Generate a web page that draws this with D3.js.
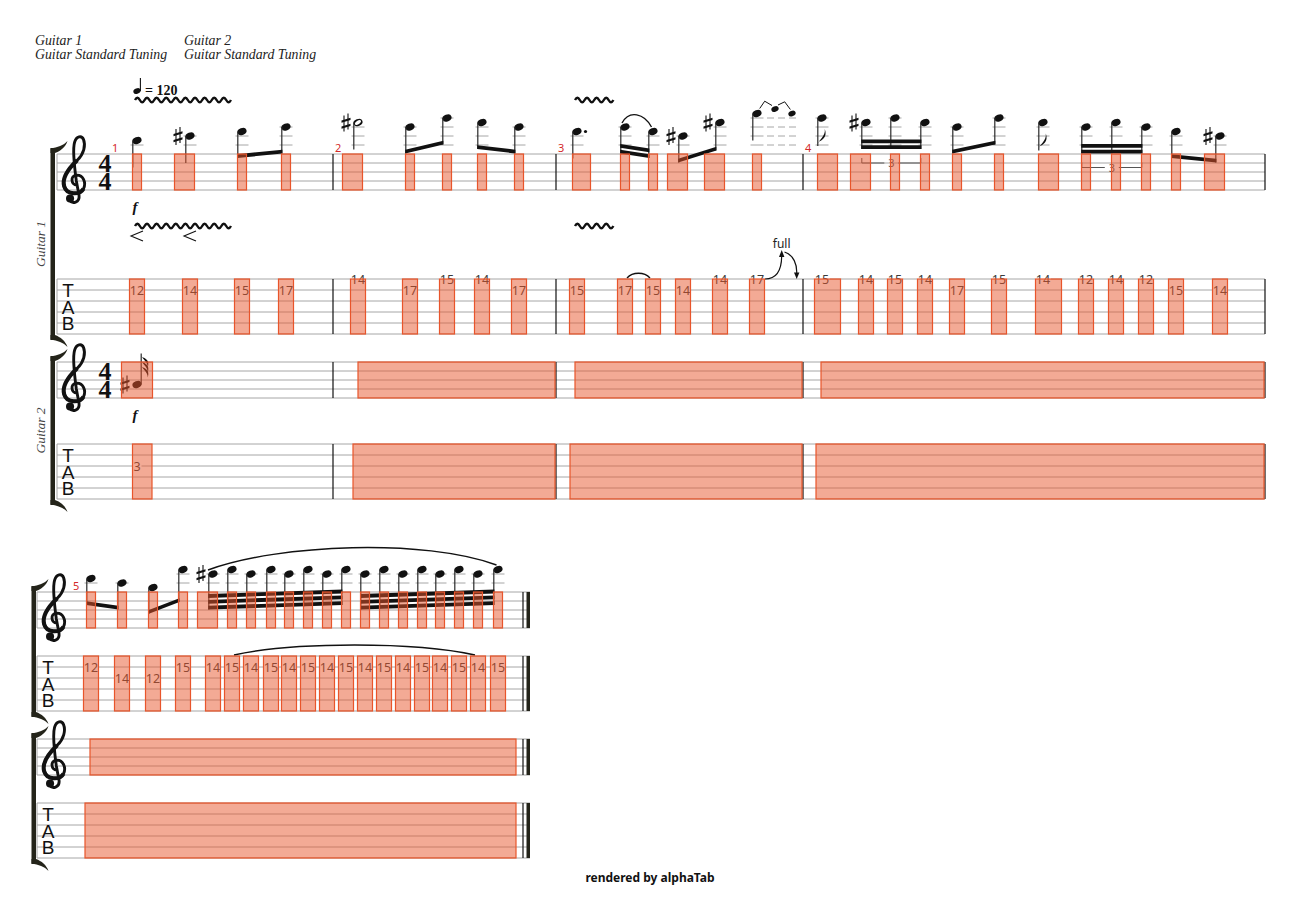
<!DOCTYPE html>
<html>
<head>
<meta charset="utf-8">
<script src="https://cdn.jsdelivr.net/npm/d3@7/dist/d3.min.js"></script>
<style>
  body { margin: 0; background: #fff; }
</style>
</head>
<body>
<div id="score"></div>
<script>
const trackNames = ["Guitar 1", "Guitar 2"];
const tuningName = "Guitar Standard Tuning";
const tempoBpm = 120;
const timeSig = [4, 4];

// measures: which system, where the bar ends (units from the system's staff start)
const measureSystem = [0, 0, 0, 0, 1];
const measureEnd = [276, 499, 746, 1208, 486];
const measureLabelPos = [55, 278, 501, 748, 36];

// Guitar 1 beats
const g1Measure = [1, 1, 1, 1, 2, 2, 2, 2, 2, 3, 3, 3, 3, 3, 3,
  4, 4, 4, 4, 4, 4, 4, 4, 4, 4, 4, 4,
  5, 5, 5, 5, 5, 5, 5, 5, 5, 5, 5, 5, 5, 5, 5, 5, 5, 5, 5, 5, 5, 5, 5, 5];
const g1Pos = [80, 133, 185, 229, 301, 353, 390, 425, 462, 520, 568, 596, 626, 663, 700,
  765, 809, 838, 868, 900, 942, 986, 1029, 1059, 1089, 1119, 1163,
  54, 85, 116, 146, 176, 195, 214, 234, 252, 271, 290, 309, 328, 347, 366, 385, 403, 422, 441, 461];
const g1Pitch = ["B5", "C#6", "D6", "E6", "F#6", "E6", "G6", "F#6", "E6", "D6", "E6", "D6", "C#6", "F#6", "A6",
  "G6", "F#6", "G6", "F#6", "E6", "G6", "F#6", "E6", "F#6", "E6", "D6", "C#6",
  "B5", "A5", "G5", "D6", "C#6", "D6", "C#6", "D6", "C#6", "D6", "C#6", "D6", "C#6", "D6", "C#6", "D6", "C#6", "D6", "C#6", "D6"];
const g1Dur = ["4", "4", "8", "8", "2", "8", "8", "8", "8", "4.", "16", "16", "8", "8", "4",
  "8", "16", "16", "16", "8", "8", "8", "16", "16", "16", "8", "8",
  "8", "8", "8", "8", "32", "32", "32", "32", "32", "32", "32", "32", "32", "32", "32", "32", "32", "32", "32", "32"];
const g1String = [2, 2, 2, 2, 1, 2, 1, 1, 2, 2, 2, 2, 2, 1, 1,
  1, 1, 1, 1, 2, 1, 1, 1, 1, 1, 2, 2,
  2, 3, 3, 2, 2, 2, 2, 2, 2, 2, 2, 2, 2, 2, 2, 2, 2, 2, 2, 2];
const g1Fret = [12, 14, 15, 17, 14, 17, 15, 14, 17, 15, 17, 15, 14, 14, 17,
  15, 14, 15, 14, 17, 15, 14, 12, 14, 12, 15, 14,
  12, 14, 12, 15, 14, 15, 14, 15, 14, 15, 14, 15, 14, 15, 14, 15, 14, 15, 14, 15];

const g1Beams = [[2, 3], [5, 6], [7, 8], [10, 11], [12, 13], [16, 18], [19, 20], [22, 24], [25, 26],
  [27, 28], [29, 30], [31, 38], [39, 46]];
const g1Triplets = [[16, 18], [22, 24]];
const g1Slurs = [[10, 11], [31, 46]];
const g1TabSlurs = [[10, 11], [32, 45]];
const g1Vibrato = [[0, 1], [9, 9]];
const g1Crescendo = [0, 1];
const g1Forte = [0];
const g1Bend = [14];
const bendPitches = ["B6", "A6"];
const bendLabel = "full";

// Guitar 2 beats
const g2Measure = [1];
const g2Pos = [80];
const g2Pitch = ["A#4"];
const g2Dur = ["32"];
const g2String = [3];
const g2Fret = [3];
const g2RestMeasure = [2, 3, 4, 5];
const g2RestStart = [301, 518, 764, 53];
const g2RestEnd = [498, 745, 1207, 479];

// ---- drawing ----
const LINE = "#a6a6a6", INK = "#111", STEM = "#2a2a2a";
const SERIF = "'Liberation Serif', 'DejaVu Serif', serif";
const SANS = "'Noto Sans', 'DejaVu Sans', sans-serif";
const HI = "#e8552b";

const svg = d3.select("#score").append("svg")
  .attr("width", 1300).attr("height", 919)
  .style("display", "block");

const systems = [
  { x0: 57, x1: 1265, span: 1208, bx: 50.5, staff: [154, 362], tab: [279, 444], first: true },
  { x0: 37, x1: 530, span: 493, bx: 31.5, staff: [592, 739], tab: [656, 803], first: false }
];
systems.forEach(s => { s.x = d3.scaleLinear().domain([0, s.span]).range([s.x0, s.x1]); });

const STEPS = "CDEFGAB";
function parsePitch(p) {
  const m = p.match(/^([A-G])(#?)(\d)$/);
  return { step: STEPS.indexOf(m[1]) + 7 * +m[3], sharp: m[2] === "#", key: m[1] + m[3] };
}
// diatonic step -> y, top line F5 (38) to bottom line E4 (30)
const pitchY = top => d3.scaleLinear().domain([38, 30]).range([top, top + 36]);
const stringY = top => d3.scaleLinear().domain([1, 6]).range([top, top + 55]);

const gLines = svg.append("g");
const gInk = svg.append("g");
const gTab = svg.append("g");
const gHi = svg.append("g");
const gTop = svg.append("g");

// header
[[35, 0], [184, 1]].forEach(([x, i]) => {
  const t = gTop.append("text").attr("font-family", SERIF).attr("font-style", "italic")
    .attr("font-size", 13.8).attr("fill", "#222");
  t.append("tspan").attr("x", x).attr("y", 45).text(trackNames[i]);
  t.append("tspan").attr("x", x).attr("y", 59).text(tuningName);
});

const clefPath = "M0.2,0.45 C-0.45,0.45 -0.55,-0.6 0.15,-0.65 C0.95,-0.7 1.25,0.25 0.95,0.85 " +
  "C0.55,1.55 -0.9,1.6 -1.2,0.6 C-1.5,-0.4 -0.7,-1.4 0.25,-2.3 C1.0,-3.0 1.2,-4.0 0.95,-4.6 " +
  "C0.75,-5.1 0.15,-5.0 -0.05,-4.3 C-0.25,-3.6 -0.15,-2.2 0.15,0.0 L0.45,1.6 C0.55,2.4 -0.3,2.6 -0.65,2.1";

function drawClef(x, y) {
  const g = gInk.append("g").attr("transform", `translate(${x},${y}) scale(9)`);
  g.append("path").attr("d", clefPath).attr("fill", "none").attr("stroke", INK)
    .attr("stroke-width", 0.32).attr("stroke-linecap", "round");
  // heavier lower bowl
  g.append("path").attr("d", "M0.95,0.85 C0.55,1.55 -0.9,1.6 -1.2,0.6 C-1.5,-0.4 -0.7,-1.4 0.25,-2.3")
    .attr("fill", "none").attr("stroke", INK).attr("stroke-width", 0.45);
  g.append("circle").attr("cx", -0.55).attr("cy", 1.95).attr("r", 0.45).attr("fill", INK);
}

function bracket(bx, yTop, yBot) {
  const c = "#24241a";
  gInk.append("rect").attr("x", bx).attr("y", yTop).attr("width", 4.5).attr("height", yBot - yTop).attr("fill", c);
  gInk.append("path").attr("fill", c).attr("d",
    `M${bx},${yTop + 0.5} C${bx + 7},${yTop - 0.5} ${bx + 13},${yTop - 2.5} ${bx + 17},${yTop - 7} ` +
    `C${bx + 15},${yTop - 1} ${bx + 10},${yTop + 3} ${bx + 4.5},${yTop + 5} L${bx},${yTop + 5} Z`);
  gInk.append("path").attr("fill", c).attr("d",
    `M${bx},${yBot - 0.5} C${bx + 7},${yBot + 0.5} ${bx + 13},${yBot + 2.5} ${bx + 17},${yBot + 7} ` +
    `C${bx + 15},${yBot + 1} ${bx + 10},${yBot - 3} ${bx + 4.5},${yBot - 5} L${bx},${yBot - 5} Z`);
}

systems.forEach((s, si) => {
  const ends = measureEnd.filter((d, i) => measureSystem[i] === si);
  [0, 1].forEach(ti => {
    const st = s.staff[ti], tb = s.tab[ti];
    const spans = [[st, 5, 9], [tb, 6, 11]];
    spans.forEach(([top, n, gap]) => {
      gLines.selectAll(null).data(d3.range(n)).join("line")
        .attr("x1", s.x0).attr("x2", s.x1)
        .attr("y1", i => top + gap * i).attr("y2", i => top + gap * i)
        .attr("stroke", LINE).attr("stroke-width", 1);
      const bottom = top + gap * (n - 1);
      gLines.append("line").attr("x1", s.x0).attr("x2", s.x0).attr("y1", top).attr("y2", bottom)
        .attr("stroke", LINE).attr("stroke-width", 1);
      ends.forEach(e => {
        const last = si === 1 && e === ends[ends.length - 1];
        gInk.append("line").attr("x1", s.x(e)).attr("x2", s.x(e)).attr("y1", top).attr("y2", bottom)
          .attr("stroke", INK).attr("stroke-width", 1.2);
        if (last) {
          gInk.append("rect").attr("x", s.x(e) + 3.5).attr("y", top).attr("width", 3.5)
            .attr("height", bottom - top).attr("fill", "#24241a");
        }
      });
    });
    drawClef(s.x0 + 18, st + 27);
    if (s.first) {
      const ts = gInk.append("text").attr("text-anchor", "middle").attr("font-family", SERIF)
        .attr("font-weight", "bold").attr("font-size", 26).attr("fill", INK);
      timeSig.forEach((v, k) => ts.append("tspan").attr("x", s.x0 + 48).attr("y", st + 18 + 18 * k).text(v));
      gTop.append("text").attr("transform", `translate(${s.bx - 6},${(st + tb + 55) / 2}) rotate(-90)`)
        .attr("text-anchor", "middle").attr("font-family", SERIF).attr("font-style", "italic")
        .attr("font-size", 13.5).attr("fill", "#444").text(trackNames[ti]);
    }
    const tabLbl = gInk.append("text").attr("text-anchor", "middle")
      .attr("font-family", "'Liberation Sans', Arial, sans-serif").attr("font-size", 19).attr("fill", INK);
    ["T", "A", "B"].forEach((ch, k) => tabLbl.append("tspan").attr("x", s.x0 + 11).attr("y", tb + 18 + 16.5 * k).text(ch));
    bracket(s.bx, st - 6, tb + 61);
  });
});

// measure numbers
measureLabelPos.forEach((p, i) => {
  const s = systems[measureSystem[i]];
  gTop.append("text").attr("x", s.x(p)).attr("y", s.staff[0] - 2)
    .attr("font-family", SANS).attr("font-size", 11).attr("fill", "#d42a2a").text(i + 1);
});

// ---- helpers for notes ----
function noteHead(g, x, y, hollow, scale) {
  const k = scale || 1;
  g.append("ellipse").attr("cx", x).attr("cy", y).attr("rx", 4.7 * k).attr("ry", 3.4 * k)
    .attr("transform", `rotate(-22,${x},${y})`).attr("fill", INK);
  if (hollow) {
    g.append("ellipse").attr("cx", x).attr("cy", y).attr("rx", 3.4).attr("ry", 1.7)
      .attr("transform", `rotate(-35,${x},${y})`).attr("fill", "#fff");
  }
}
function sharp(g, x, y) {
  g.append("path").attr("d", `M${x - 2},${y - 7} V${y + 9} M${x + 2},${y - 9} V${y + 7}`)
    .attr("stroke", INK).attr("stroke-width", 1.1);
  [0, 6].forEach(o => g.append("path")
    .attr("d", `M${x - 4.5},${y - 2 + o} L${x + 4.5},${y - 4.8 + o} L${x + 4.5},${y - 2.6 + o} L${x - 4.5},${y + 0.2 + o} Z`)
    .attr("fill", INK));
}
function ledgers(g, x, step, top, x0, x1, dash) {
  const py = pitchY(top);
  for (let l = 40; l <= step; l += 2) {
    g.append("line").attr("x1", x0 !== undefined ? x0 : x - 6.5).attr("x2", x1 !== undefined ? x1 : x + 6.5)
      .attr("y1", py(l)).attr("y2", py(l)).attr("stroke", LINE).attr("stroke-width", 1)
      .attr("stroke-dasharray", dash || null);
  }
}
const beamCount = d => d >= 8 ? Math.log2(d) - 2 : 0;
function tabNumber(x, y, fret) {
  const w = String(fret).length * 7 + 2;
  gTab.append("rect").attr("x", x - w / 2).attr("y", y - 5.5).attr("width", w).attr("height", 11).attr("fill", "#fff");
  gTab.append("text").attr("x", x).attr("y", y).attr("dy", "0.36em").attr("text-anchor", "middle")
    .attr("font-family", SANS).attr("font-size", 12.5).attr("fill", "#3a3a3a").text(fret);
}
function hiBox(x0, x1, y0, y1) {
  gHi.append("rect").attr("x", x0).attr("y", y0).attr("width", x1 - x0).attr("height", y1 - y0)
    .attr("fill", HI).attr("fill-opacity", 0.5).attr("stroke", HI).attr("stroke-width", 1.2);
}
function wavePath(x0, x1, y) {
  const p = 9.6, n = Math.max(1, Math.floor((x1 - x0) / p));
  let d = `M${x0},${y}`;
  for (let k = 0; k < n; k++) d += ` q${p / 4},-4.5 ${p / 2},0 q${p / 4},4.5 ${p / 2},0`;
  return d;
}

// ---- Guitar 1 ----
const g1 = g1Pitch.map((p, i) => {
  const m = g1Measure[i] - 1, s = systems[measureSystem[m]];
  const pp = parsePitch(p);
  const d = parseInt(g1Dur[i]);
  return {
    i, m, s, step: pp.step, sharp: pp.sharp, key: pp.key, d, dotted: g1Dur[i].endsWith("."),
    x: s.x(g1Pos[i]), y: pitchY(s.staff[0])(pp.step), top: s.staff[0], tab: s.tab[0]
  };
});
const shownAcc = new Set();
g1.forEach(b => {
  const k = b.m + b.key;
  b.acc = b.sharp && !shownAcc.has(k);
  if (b.sharp) shownAcc.add(k);
});
const inBeam = new Set();
g1Beams.forEach(([a, b]) => d3.range(a, b + 1).forEach(k => inBeam.add(k)));
g1.forEach(b => { b.flag = b.d >= 8 && !inBeam.has(b.i); b.sx = b.x - 4.2; });

g1.forEach(b => {
  ledgers(gInk, b.x, b.step, b.top);
  noteHead(gInk, b.x, b.y, b.d <= 2);
  if (b.acc) sharp(gInk, b.x - 12, b.y);
  if (b.dotted) gInk.append("circle").attr("cx", b.x + 8.5).attr("cy", b.y).attr("r", 1.6).attr("fill", INK);
  if (!inBeam.has(b.i)) {
    const len = b.flag ? 28 : 27;
    gInk.append("line").attr("x1", b.sx).attr("x2", b.sx).attr("y1", b.y).attr("y2", b.y + len)
      .attr("stroke", STEM).attr("stroke-width", 1.2);
    if (b.flag) {
      const sx = b.sx, sy = b.y + len;
      gInk.append("path").attr("fill", INK).attr("d",
        `M${sx - 0.6},${sy} C${sx + 0.5},${sy - 7} ${sx + 8},${sy - 9} ${sx + 7},${sy - 17} ` +
        `C${sx + 10},${sy - 9} ${sx + 4},${sy - 5.5} ${sx + 0.6},${sy - 4} Z`);
    }
  }
  tabNumber(b.x, stringY(b.tab)(g1String[b.i]), g1Fret[b.i]);
});

// beams
g1Beams.forEach(([a, b]) => {
  const n = beamCount(g1[a].d);
  const ext = Math.max(0, n - 2) * 9;
  const xa = g1[a].sx, xb = g1[b].sx;
  let ya = g1[a].y + 26.5 + ext, yb = g1[b].y + 26.5 + ext;
  if (ya - yb > 12) yb = ya - 12; else if (yb - ya > 12) ya = yb - 12;
  const at = x => ya + (yb - ya) * (x - xa) / (xb - xa);
  let lift = 0;
  for (let k = a; k <= b; k++) lift = Math.max(lift, g1[k].y + 22 + ext - at(g1[k].sx));
  ya += lift; yb += lift;
  for (let k = a; k <= b; k++) {
    gInk.append("line").attr("x1", g1[k].sx).attr("x2", g1[k].sx).attr("y1", g1[k].y).attr("y2", at(g1[k].sx))
      .attr("stroke", STEM).attr("stroke-width", 1.2);
    g1[k].beamY = at(g1[k].sx);
  }
  for (let j = 0; j < n; j++) {
    const o = j * 5.8, t = 3.8;
    gInk.append("path").attr("fill", INK).attr("d",
      `M${xa - 0.6},${ya - o} L${xb + 0.6},${yb - o} L${xb + 0.6},${yb - o - t} L${xa - 0.6},${ya - o - t} Z`);
  }
});

// triplet brackets
g1Triplets.forEach(([a, b]) => {
  const y = Math.max(g1[a].beamY, g1[b].beamY) + 14;
  const x0 = g1[a].sx, x1 = g1[b].sx, xm = (x0 + x1) / 2;
  gInk.append("path").attr("fill", "none").attr("stroke", "#555").attr("stroke-width", 1)
    .attr("d", `M${x0},${y - 5} V${y} H${xm - 7} M${xm + 7},${y} H${x1} V${y - 5}`);
  gInk.append("text").attr("x", xm).attr("y", y + 4).attr("text-anchor", "middle")
    .attr("font-family", SANS).attr("font-size", 11).attr("fill", "#555").text(3);
});

// slurs in the staff and in the tab
g1Slurs.forEach(([a, b]) => {
  const x0 = g1[a].x - (b - a > 1 ? 5 : 3), y0 = g1[a].y - 4;
  const x1 = g1[b].x - 1.5, y1 = g1[b].y - 4.5;
  const c = Math.min(27, 12 + 0.05 * (x1 - x0));
  gInk.append("path").attr("fill", "none").attr("stroke", INK).attr("stroke-width", 1.4)
    .attr("d", `M${x0},${y0} C${x0 + (x1 - x0) * 0.25},${y0 - c} ${x0 + (x1 - x0) * 0.75},${y1 - c} ${x1},${y1}`);
});
g1TabSlurs.forEach(([a, b]) => {
  const x0 = g1[a].x + 2, x1 = g1[b].x - 3, y = g1[a].tab - 1;
  const h = Math.min(10, 0.03 * (x1 - x0) + 4) / 0.75;
  gInk.append("path").attr("fill", "none").attr("stroke", INK).attr("stroke-width", 1.4)
    .attr("d", `M${x0},${y} C${x0 + (x1 - x0) * 0.25},${y - h} ${x0 + (x1 - x0) * 0.75},${y - h} ${x1},${y}`);
});

// vibrato waves above the staff and above the tab
g1Vibrato.forEach(([a, b]) => {
  const x0 = g1[a].x - 2, x1 = g1[b + 1].x - 8;
  [g1[a].top - 54, g1[a].tab - 53].forEach(y => gInk.append("path").attr("d", wavePath(x0, x1, y))
    .attr("fill", "none").attr("stroke", INK).attr("stroke-width", 2.4));
});
g1Crescendo.forEach(i => {
  const x = g1[i].x, y = g1[i].tab - 43;
  gInk.append("path").attr("d", `M${x + 6},${y - 5} L${x - 6},${y} L${x + 6},${y + 5}`)
    .attr("fill", "none").attr("stroke", INK).attr("stroke-width", 1.1);
});
g1Forte.forEach(i => gInk.append("text").attr("x", g1[i].x - 2).attr("y", g1[i].top + 58)
  .attr("text-anchor", "middle").attr("font-family", SERIF).attr("font-style", "italic")
  .attr("font-weight", "bold").attr("font-size", 15).attr("fill", INK).text("f"));

// tempo
{
  const b = g1[0], y = b.top - 63;
  noteHead(gTop, b.x, y, false, 0.8);
  gTop.append("line").attr("x1", b.x + 3.4).attr("x2", b.x + 3.4).attr("y1", y).attr("y2", y - 13)
    .attr("stroke", INK).attr("stroke-width", 1.1);
  gTop.append("text").attr("x", b.x + 8).attr("y", y + 3.5).attr("font-family", SERIF)
    .attr("font-weight", "bold").attr("font-size", 14).attr("fill", INK).text("= " + tempoBpm);
}

// bends (full bend and release)
g1Bend.forEach(i => {
  const b = g1[i], hx = b.x, hy = b.y;
  const py = pitchY(b.top);
  const p1 = parsePitch(bendPitches[0]), p2 = parsePitch(bendPitches[1]);
  ledgers(gInk, hx, Math.max(p1.step, p2.step) - 1, b.top, hx + 10, hx + 43, "7,4");
  noteHead(gInk, hx + 18, py(p1.step), false, 0.8);
  noteHead(gInk, hx + 35, py(p2.step), false, 0.8);
  gInk.append("path").attr("fill", "none").attr("stroke", INK).attr("stroke-width", 1)
    .attr("d", `M${hx + 2.7},${hy - 5} L${hx + 7.7},${hy - 12.3} L${hx + 15},${hy - 8} ` +
      `M${hx + 21},${py(p1.step) - 4} L${hx + 27.7},${hy - 11.7} L${hx + 33.4},${py(p2.step) - 4}`);
  // tab
  const y = stringY(b.tab)(g1String[i]);
  gInk.append("path").attr("fill", "none").attr("stroke", INK).attr("stroke-width", 1.2)
    .attr("d", `M${hx + 8},${y} C${hx + 18},${y} ${hx + 24.5},${y - 6} ${hx + 24.7},${y - 23}`);
  gInk.append("path").attr("fill", INK)
    .attr("d", `M${hx + 22},${y - 22} L${hx + 27.4},${y - 22} L${hx + 24.7},${y - 29} Z`);
  gInk.append("path").attr("fill", "none").attr("stroke", INK).attr("stroke-width", 1.2)
    .attr("d", `M${hx + 27.5},${y - 27} C${hx + 37},${y - 24} ${hx + 40},${y - 14} ${hx + 39.7},${y - 6}`);
  gInk.append("path").attr("fill", INK)
    .attr("d", `M${hx + 37},${y - 6.5} L${hx + 42.4},${y - 6.5} L${hx + 39.7},${y} Z`);
  gTop.append("text").attr("x", hx + 24.7).attr("y", y - 31).attr("text-anchor", "middle")
    .attr("font-family", SANS).attr("font-size", 12).attr("fill", "#222").text(bendLabel);
});

// highlight boxes for Guitar 1 beats
g1.forEach(b => {
  const flagW = b.flag ? 11 : 0;
  hiBox(b.x - 4.5 - (b.acc ? 11 : 0), b.x + 4.5 + (b.dotted ? 9 : 0) + flagW, b.top, b.top + 36);
  hiBox(b.x - 7.5, b.x + 7.5 + flagW, b.tab, b.tab + 55);
});

// ---- Guitar 2 ----
g2Pitch.forEach((p, i) => {
  const m = g2Measure[i] - 1, s = systems[measureSystem[m]];
  const top = s.staff[1], tab = s.tab[1];
  const pp = parsePitch(p), x = s.x(g2Pos[i]), y = pitchY(top)(pp.step);
  const n = beamCount(parseInt(g2Dur[i]));
  noteHead(gInk, x, y, false);
  if (pp.sharp) sharp(gInk, x - 12, y);
  const sx = x + 4.2, sy = y - 31;
  gInk.append("line").attr("x1", sx).attr("x2", sx).attr("y1", y).attr("y2", sy)
    .attr("stroke", STEM).attr("stroke-width", 1.2);
  for (let k = 0; k < n; k++) {
    const fy = sy + k * 5;
    gInk.append("path").attr("fill", INK).attr("d",
      `M${sx - 0.6},${fy} C${sx + 0.5},${fy + 6} ${sx + 7},${fy + 8} ${sx + 6.5},${fy + 14} ` +
      `C${sx + 9},${fy + 7} ${sx + 4},${fy + 4.5} ${sx + 0.6},${fy + 3.5} Z`);
  }
  gInk.append("text").attr("x", x - 2).attr("y", top + 58).attr("text-anchor", "middle")
    .attr("font-family", SERIF).attr("font-style", "italic").attr("font-weight", "bold")
    .attr("font-size", 15).attr("fill", INK).text("f");
  tabNumber(x, stringY(tab)(g2String[i]), g2Fret[i]);
  hiBox(x - 4.5 - (pp.sharp ? 11 : 0), x + 4.5 + (n ? 11 : 0), top, top + 36);
  hiBox(x - 4.5, x + 15, tab, tab + 55);
});
g2RestMeasure.forEach((mNo, i) => {
  const s = systems[measureSystem[mNo - 1]];
  hiBox(s.x(g2RestStart[i]), s.x(g2RestEnd[i]), s.staff[1], s.staff[1] + 36);
  hiBox(s.x(g2RestStart[i] - 5), s.x(g2RestEnd[i]), s.tab[1], s.tab[1] + 55);
});

// footer
gTop.append("text").attr("x", 650).attr("y", 882).attr("text-anchor", "middle")
  .attr("font-family", SANS).attr("font-weight", "bold").attr("font-size", 12)
  .attr("fill", INK).text("rendered by alphaTab");
</script>
</body>
</html>
